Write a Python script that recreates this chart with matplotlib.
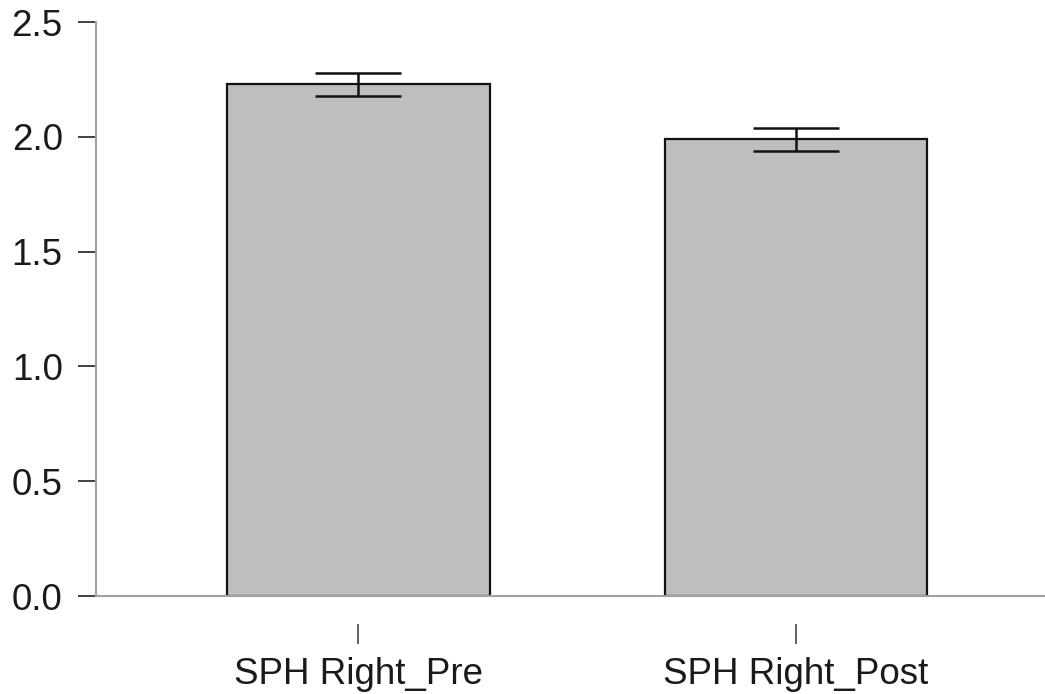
import matplotlib
matplotlib.use("Agg")
import matplotlib.pyplot as plt

# Group means with standard errors
categories = ["SPH Right_Pre", "SPH Right_Post"]
means = [2.23, 1.99]
errors = [0.05, 0.05]
y_ticks = [0.0, 0.5, 1.0, 1.5, 2.0, 2.5]

plt.rcParams["font.family"] = ["Liberation Sans", "DejaVu Sans"]

fig = plt.figure(figsize=(10.45, 6.94), dpi=100)
ax = fig.add_axes([0.0919, 0.1412, 0.9081, 0.827])

x = list(range(len(categories)))
ax.bar(x, means, width=0.6, color="#bebebe", edgecolor="#111111",
       linewidth=1.6, zorder=2)
ax.errorbar(x, means, yerr=errors, fmt="none", ecolor="#111111",
            elinewidth=1.8, capsize=31, capthick=1.8, zorder=3)

ax.set_xlim(-0.6, 1.57)
ax.set_ylim(0, 2.5)
ax.set_yticks(y_ticks)
ax.set_yticklabels([f"{v:.1f}" for v in y_ticks])
ax.set_xticks(x)
ax.set_xticklabels(categories)

for side in ("top", "right"):
    ax.spines[side].set_visible(False)
for side in ("left", "bottom"):
    ax.spines[side].set_color("#a0a0a0")
    ax.spines[side].set_linewidth(1.5)

ax.tick_params(axis="y", length=13, width=1.3, color="#333333",
               labelsize=26.5, pad=11, labelcolor="#1a1a1a")
ax.tick_params(axis="x", length=0, labelsize=26.5, pad=44,
               labelcolor="#1a1a1a")

# Detached category tick marks below the baseline
tr = ax.get_xaxis_transform()
for xi in x:
    ax.plot([xi, xi], [-0.0505, -0.0819], transform=tr, color="#555555",
            linewidth=1.3, clip_on=False)

fig.savefig("out.png", dpi=100, facecolor="white")
